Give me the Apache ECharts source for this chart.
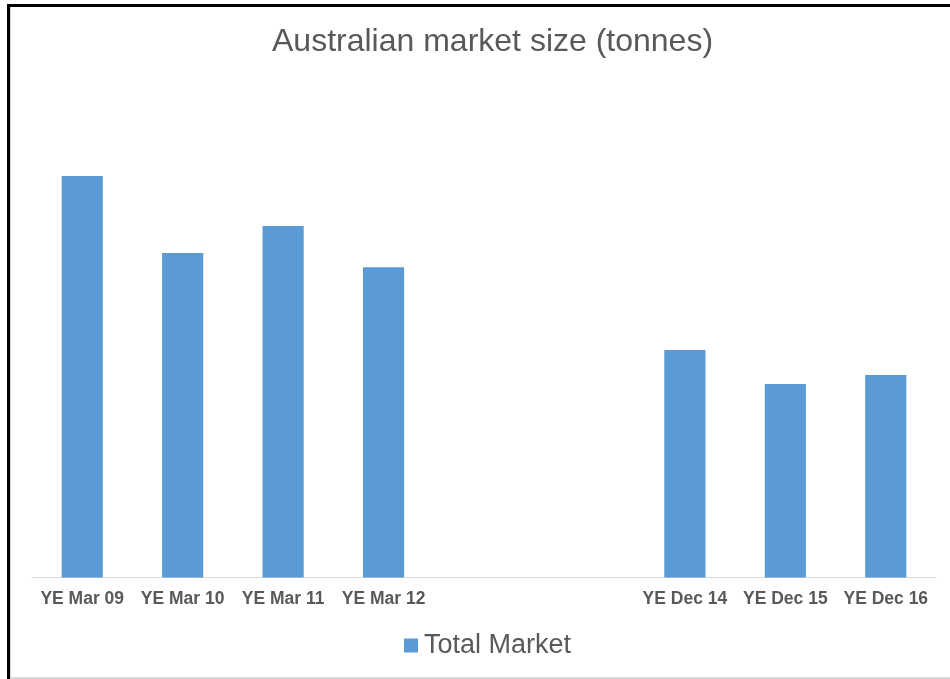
<!DOCTYPE html>
<html>
<head>
<meta charset="utf-8">
<script src="https://cdn.jsdelivr.net/npm/echarts@6/dist/echarts.min.js"></script>
<style>
html,body{margin:0;padding:0;background:#fff;}
#chart{width:950px;height:679px;}
</style>
</head>
<body>
<div id="chart"></div>
<script>
var categories = ['YE Mar 09','YE Mar 10','YE Mar 11','YE Mar 12','','','YE Dec 14','YE Dec 15','YE Dec 16'];
var totalMarket = [401.5, 324.5, 351.5, 310.2, '-', '-', 227.5, 193.5, 202.5];
var seriesName = 'Total Market';
var titleText = 'Australian market size (tonnes)';

var chart = echarts.init(document.getElementById('chart'), null, {renderer:'canvas'});
chart.setOption({
  animation:false,
  backgroundColor:'#ffffff',
  title:{
    text:titleText,
    left:267, top:21, padding:5,
    textStyle:{fontFamily:'Liberation Sans, Arial, sans-serif', fontSize:32, fontWeight:'normal', color:'#595959'}
  },
  legend:{
    data:[seriesName],
    left:399, top:627,
    icon:'rect', itemWidth:14, itemHeight:14, itemGap:6,
    textStyle:{fontFamily:'Liberation Sans, Arial, sans-serif', fontSize:27, color:'#595959', padding:[0,0,0,1]}
  },
  grid:{left:32, right:14, top:127.5, bottom:101.5, containLabel:false},
  xAxis:{
    type:'category',
    data:categories,
    axisLine:{show:true, lineStyle:{color:'#d9d9d9', width:1}},
    axisTick:{show:false},
    axisLabel:{interval:0, margin:13, fontFamily:'Liberation Sans, Arial, sans-serif', fontSize:17.5, fontWeight:'bold', color:'#595959'},
    splitLine:{show:false}
  },
  yAxis:{
    type:'value', min:0, max:450,
    show:false,
    splitLine:{show:false}
  },
  series:[{
    name:seriesName,
    type:'bar',
    data:totalMarket,
    barWidth:'41%',
    itemStyle:{color:'#5b9bd5'}
  }],
  graphic:[
    {type:'rect', shape:{x:7, y:4, width:943, height:3}, style:{fill:'#000000'}, silent:true},
    {type:'rect', shape:{x:7, y:4, width:3, height:675}, style:{fill:'#000000'}, silent:true},
    {type:'rect', shape:{x:10, y:7, width:1, height:672}, style:{fill:'#d9d9d9'}, silent:true},
    {type:'rect', shape:{x:10, y:677, width:940, height:2}, style:{fill:'#d9d9d9'}, silent:true}
  ]
});
</script>
</body>
</html>
